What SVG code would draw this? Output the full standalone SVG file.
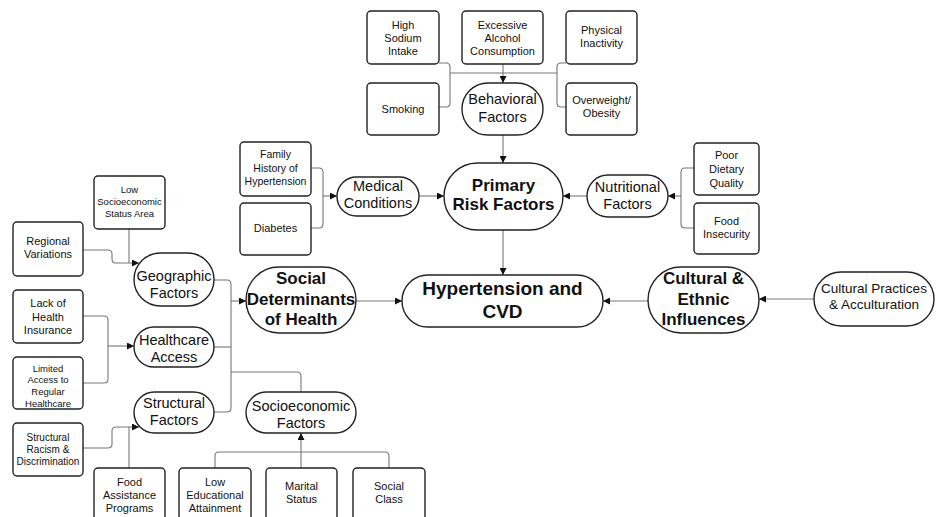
<svg xmlns="http://www.w3.org/2000/svg" width="936" height="517" viewBox="0 0 936 517">
<style>
.box{fill:#fff;stroke:#222;stroke-width:1.4}
.t{font-family:"Liberation Sans",Arial,sans-serif;fill:#111;text-anchor:middle}
.s{font-size:11px}
.m{font-size:14.5px}
.b{font-size:17px;font-weight:bold}
.c{fill:none;stroke:#777;stroke-width:1.1}
.a{marker-end:url(#arr)}
</style>
<defs>
<marker id="arr" viewBox="0 0 10 10" refX="10" refY="5" markerWidth="8" markerHeight="7" markerUnits="userSpaceOnUse" orient="auto">
<path d="M0,0 L10,5 L0,10 z" fill="#111"/>
</marker>
</defs>
<rect width="936" height="517" fill="#fff"/>
<g id="connectors">
<path class="c a" d="M503,64 V83"/>
<path class="c" d="M439,63 H446 Q450,63 450,67 V103 Q450,107 446,107 H439"/>
<path class="c" d="M566,63 H561 Q557,63 557,67 V103 Q557,107 561,107 H566"/>
<path class="c" d="M450,73 H557"/>
<path class="c a" d="M503,135 V163"/>
<path class="c a" d="M503,230 V275"/>
<path class="c" d="M311,168 H319 Q323,168 323,172 V224 Q323,228 319,228 H311"/>
<path class="c a" d="M323,196 H337"/>
<path class="c a" d="M419,196 H444"/>
<path class="c a" d="M587,196 H563"/>
<path class="c" d="M694,168 H685 Q681,168 681,172 V224 Q681,228 685,228 H694"/>
<path class="c a" d="M681,196 H668"/>
<path class="c a" d="M356,301 H402"/>
<path class="c a" d="M648,301 H603"/>
<path class="c a" d="M814,299 H759"/>
<path class="c a" d="M83,250 H108 Q112,250 112,254 V259 Q112,263 116,263 H139"/>
<path class="c" d="M129,229 V263"/>
<path class="c" d="M83,316 H104 Q108,316 108,320 V379 Q108,383 104,383 H83"/>
<path class="c a" d="M108,346 H134"/>
<path class="c a" d="M83,448 H108 Q112,448 112,444 V431 Q112,427 116,427 H139"/>
<path class="c" d="M129,468 V427"/>
<path class="c" d="M214,280 H227 Q231,280 231,284 V408 Q231,412 227,412 H214"/>
<path class="c" d="M214,347 H231"/>
<path class="c a" d="M231,301 H246"/>
<path class="c" d="M231,372 H297 Q301,372 301,376 V392"/>
<path class="c" d="M215,468 V456 Q215,452 219,452 H385 Q389,452 389,456 V468"/>
<path class="c a" d="M301,468 V433"/>
</g>
<g id="n-sodium"><rect class="box" x="367" y="11" width="72" height="53" rx="4"/><text class="t s" x="403" y="29">High</text><text class="t s" x="403" y="42">Sodium</text><text class="t s" x="403" y="55">Intake</text></g>
<g id="n-alcohol"><rect class="box" x="462" y="11" width="81" height="53" rx="4"/><text class="t s" x="502.5" y="29">Excessive</text><text class="t s" x="502.5" y="42">Alcohol</text><text class="t s" x="502.5" y="55">Consumption</text></g>
<g id="n-inactivity"><rect class="box" x="566" y="11" width="71" height="53" rx="4"/><text class="t s" x="601.5" y="34">Physical</text><text class="t s" x="601.5" y="47">Inactivity</text></g>
<g id="n-smoking"><rect class="box" x="367" y="83" width="72" height="52" rx="4"/><text class="t s" x="403" y="113">Smoking</text></g>
<g id="n-behavioral"><rect class="box" x="462" y="83" width="81" height="52" rx="26"/><text class="t m" x="502.5" y="104">Behavioral</text><text class="t m" x="502.5" y="122">Factors</text></g>
<g id="n-overweight"><rect class="box" x="566" y="83" width="71" height="52" rx="4"/><text class="t s" x="601.5" y="104">Overweight/</text><text class="t s" x="601.5" y="117">Obesity</text></g>
<g id="n-family"><rect class="box" x="240" y="142" width="71" height="54" rx="4"/><text class="t" style="font-size:10.5px" x="275.5" y="158">Family</text><text class="t" style="font-size:10.5px" x="275.5" y="172">History of</text><text class="t" style="font-size:10.5px" x="275.5" y="185">Hypertension</text></g>
<g id="n-diabetes"><rect class="box" x="240" y="203" width="71" height="52" rx="4"/><text class="t s" x="275.5" y="232">Diabetes</text></g>
<g id="n-medical"><rect class="box" x="337" y="177" width="82" height="39" rx="19.5"/><text class="t m" x="378" y="191">Medical</text><text class="t m" x="378" y="208">Conditions</text></g>
<g id="n-primary"><rect class="box" x="444" y="163" width="119" height="67" rx="33.5"/><text class="t b" x="503.5" y="190.5">Primary</text><text class="t b" x="503.5" y="210">Risk Factors</text></g>
<g id="n-nutritional"><rect class="box" x="587" y="175" width="81" height="42" rx="21"/><text class="t m" x="627.5" y="192">Nutritional</text><text class="t m" x="627.5" y="209">Factors</text></g>
<g id="n-dietary"><rect class="box" x="694" y="143" width="65" height="52" rx="4"/><text class="t s" x="726.5" y="159">Poor</text><text class="t s" x="726.5" y="173">Dietary</text><text class="t s" x="726.5" y="187">Quality</text></g>
<g id="n-food-insecurity"><rect class="box" x="694" y="203" width="65" height="51" rx="4"/><text class="t s" x="726.5" y="225">Food</text><text class="t s" x="726.5" y="238">Insecurity</text></g>
<g id="n-lowses"><rect class="box" x="94" y="176" width="71" height="53" rx="4"/><text class="t" style="font-size:9.5px" x="129.5" y="192.5">Low</text><text class="t" style="font-size:9.5px" x="129.5" y="204.5">Socioeconomic</text><text class="t" style="font-size:9.5px" x="129.5" y="216.5">Status Area</text></g>
<g id="n-regional"><rect class="box" x="13" y="222" width="70" height="54" rx="4"/><text class="t s" x="48" y="245">Regional</text><text class="t s" x="48" y="258">Variations</text></g>
<g id="n-geographic"><rect class="box" x="134" y="253" width="80" height="53" rx="26.5"/><text class="t m" x="174" y="281">Geographic</text><text class="t m" x="174" y="298">Factors</text></g>
<g id="n-social"><rect class="box" x="246" y="267" width="110" height="66" rx="33"/><text class="t b" x="301" y="284">Social</text><text class="t b" x="301" y="304.5">Determinants</text><text class="t b" x="301" y="325">of Health</text></g>
<g id="n-hypertension"><rect class="box" x="402" y="275" width="201" height="52" rx="26"/><text class="t" style="font-size:19px;font-weight:bold" x="502.5" y="295">Hypertension and</text><text class="t" style="font-size:19px;font-weight:bold" x="502.5" y="318">CVD</text></g>
<g id="n-cultural"><rect class="box" x="648" y="267" width="111" height="66" rx="33"/><text class="t b" x="703.5" y="284">Cultural &amp;</text><text class="t b" x="703.5" y="304.5">Ethnic</text><text class="t b" x="703.5" y="325">Influences</text></g>
<g id="n-practices"><rect class="box" x="814" y="272" width="120" height="54" rx="27"/><text class="t" style="font-size:13.5px" x="874" y="293">Cultural Practices</text><text class="t" style="font-size:13.5px" x="874" y="309">&amp; Acculturation</text></g>
<g id="n-insurance"><rect class="box" x="13" y="290" width="70" height="53" rx="4"/><text class="t s" x="48" y="307">Lack of</text><text class="t s" x="48" y="321">Health</text><text class="t s" x="48" y="334">Insurance</text></g>
<g id="n-healthcare"><rect class="box" x="134" y="327" width="80" height="40" rx="20"/><text class="t m" x="174" y="345">Healthcare</text><text class="t m" x="174" y="362">Access</text></g>
<g id="n-limited"><rect class="box" x="13" y="357" width="70" height="52" rx="4"/><text class="t" style="font-size:9.5px" x="48" y="371.5">Limited</text><text class="t" style="font-size:9.5px" x="48" y="383">Access to</text><text class="t" style="font-size:9.5px" x="48" y="395">Regular</text><text class="t" style="font-size:9.5px" x="48" y="406.5">Healthcare</text></g>
<g id="n-structural"><rect class="box" x="134" y="392" width="80" height="41" rx="20.5"/><text class="t m" x="174" y="408">Structural</text><text class="t m" x="174" y="425">Factors</text></g>
<g id="n-socioeconomic"><rect class="box" x="246" y="392" width="110" height="41" rx="20.5"/><text class="t m" x="301" y="411">Socioeconomic</text><text class="t m" x="301" y="428">Factors</text></g>
<g id="n-racism"><rect class="box" x="13" y="423" width="70" height="53" rx="4"/><text class="t" style="font-size:10px" x="48" y="440.5">Structural</text><text class="t" style="font-size:10px" x="48" y="452.5">Racism &amp;</text><text class="t" style="font-size:10px" x="48" y="464.5">Discrimination</text></g>
<g id="n-food-assistance"><rect class="box" x="94" y="468" width="71" height="60" rx="4"/><text class="t s" x="129.5" y="486">Food</text><text class="t s" x="129.5" y="499">Assistance</text><text class="t s" x="129.5" y="512">Programs</text></g>
<g id="n-education"><rect class="box" x="179" y="468" width="72" height="60" rx="4"/><text class="t s" x="215" y="486">Low</text><text class="t s" x="215" y="499">Educational</text><text class="t s" x="215" y="512">Attainment</text></g>
<g id="n-marital"><rect class="box" x="266" y="468" width="71" height="60" rx="4"/><text class="t s" x="301.5" y="490">Marital</text><text class="t s" x="301.5" y="503">Status</text></g>
<g id="n-class"><rect class="box" x="353" y="468" width="72" height="60" rx="4"/><text class="t s" x="389" y="490">Social</text><text class="t s" x="389" y="503">Class</text></g>
</svg>
